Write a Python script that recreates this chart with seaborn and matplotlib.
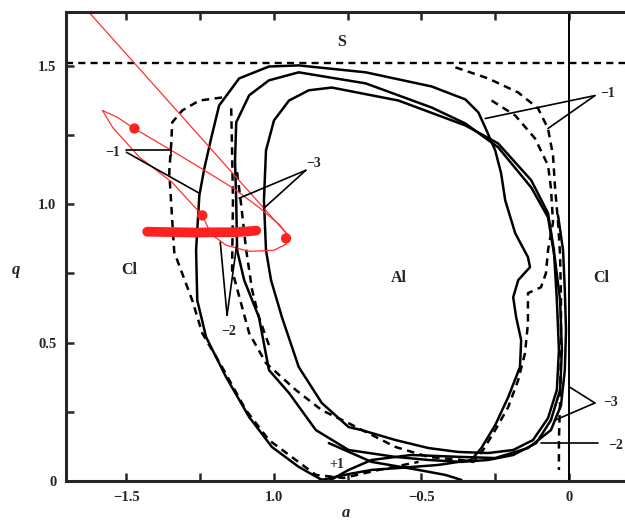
import numpy as np
import pandas as pd
import matplotlib
matplotlib.use("Agg")
import matplotlib.pyplot as plt
import seaborn as sns

outer_loop = [(-0.838, 0.004), (-0.916, 0.051), (-1.007, 0.123), (-1.084, 0.231), (-1.162, 0.375),
              (-1.230, 0.520), (-1.260, 0.653), (-1.264, 0.834), (-1.253, 1.032), (-1.236, 1.130),
              (-1.213, 1.238), (-1.186, 1.357), (-1.118, 1.455), (-1.017, 1.498), (-0.916, 1.502),
              (-0.689, 1.477), (-0.466, 1.426), (-0.351, 1.379), (-0.307, 1.332), (-0.284, 1.278),
              (-0.250, 1.195), (-0.230, 1.112), (-0.216, 1.014), (-0.182, 0.895), (-0.139, 0.809),
              (-0.132, 0.773), (-0.172, 0.726), (-0.189, 0.664), (-0.179, 0.592), (-0.162, 0.509),
              (-0.166, 0.412), (-0.206, 0.303), (-0.250, 0.202), (-0.297, 0.119), (-0.331, 0.076),
              (-0.443, 0.058), (-0.578, 0.047), (-0.669, 0.040), (-0.747, 0.025), (-0.838, 0.004)]

middle_loop = [(-1.125, 0.834), (-1.128, 1.014), (-1.132, 1.159), (-1.128, 1.296), (-1.084, 1.394),
               (-1.017, 1.448), (-0.916, 1.477), (-0.689, 1.437), (-0.466, 1.350), (-0.351, 1.292),
               (-0.240, 1.206), (-0.128, 1.061), (-0.071, 0.953), (-0.047, 0.798), (-0.030, 0.653),
               (-0.024, 0.473), (-0.030, 0.329), (-0.061, 0.220), (-0.111, 0.137), (-0.189, 0.094),
               (-0.274, 0.076), (-0.365, 0.069), (-0.476, 0.076), (-0.588, 0.087), (-0.747, 0.112),
               (-0.858, 0.184), (-0.949, 0.318), (-1.017, 0.401), (-1.051, 0.592), (-1.101, 0.726),
               (-1.125, 0.834)]

inner_loop = [(-1.027, 0.834), (-1.034, 1.014), (-1.027, 1.195), (-1.000, 1.303), (-0.949, 1.375),
              (-0.882, 1.412), (-0.804, 1.422), (-0.578, 1.375), (-0.351, 1.285), (-0.240, 1.220),
              (-0.128, 1.087), (-0.071, 0.968), (-0.051, 0.834), (-0.041, 0.653), (-0.034, 0.473),
              (-0.041, 0.329), (-0.071, 0.227), (-0.122, 0.148), (-0.189, 0.112), (-0.274, 0.101),
              (-0.375, 0.105), (-0.476, 0.119), (-0.588, 0.148), (-0.703, 0.184), (-0.747, 0.195),
              (-0.838, 0.282), (-0.916, 0.412), (-0.973, 0.592), (-1.010, 0.726), (-1.027, 0.834)]

plus_one = [(-0.814, 0.000), (-0.747, 0.040), (-0.669, 0.076), (-0.534, 0.094), (-0.365, 0.087),
            (-0.250, 0.083), (-0.139, 0.119), (-0.061, 0.184), (-0.027, 0.274), (-0.014, 0.401),
            (-0.010, 0.545), (-0.014, 0.690), (-0.020, 0.834), (-0.037, 0.960)]

bottom_touch = [(-0.814, 0.137), (-0.669, 0.069), (-0.510, 0.040), (-0.419, 0.022), (-0.365, 0.004)]

dashed_left = [(-1.176, 1.386), (-1.253, 1.375), (-1.311, 1.339), (-1.345, 1.296), (-1.348, 1.224),
               (-1.355, 1.116), (-1.348, 0.996), (-1.338, 0.827), (-1.277, 0.653), (-1.243, 0.534),
               (-1.176, 0.412), (-1.095, 0.256), (-1.017, 0.148), (-0.926, 0.076), (-0.858, 0.022),
               (-0.764, 0.011), (-0.645, 0.040), (-0.510, 0.069)]

dashed_mid = [(-1.145, 1.347), (-1.142, 1.195), (-1.139, 1.014), (-1.142, 0.762), (-1.084, 0.534),
              (-1.027, 0.426), (-0.926, 0.329), (-0.838, 0.256), (-0.747, 0.209), (-0.588, 0.123),
              (-0.476, 0.087), (-0.365, 0.076), (-0.324, 0.069), (-0.291, 0.112), (-0.250, 0.184),
              (-0.206, 0.267), (-0.172, 0.365), (-0.149, 0.462), (-0.139, 0.570), (-0.139, 0.679),
              (-0.095, 0.700), (-0.078, 0.751), (-0.071, 0.834), (-0.054, 0.935), (-0.061, 1.058),
              (-0.071, 1.141), (-0.115, 1.238), (-0.182, 1.321), (-0.274, 1.383)]

dashed_right = [(-0.385, 1.495), (-0.274, 1.455), (-0.172, 1.404), (-0.105, 1.347), (-0.071, 1.274),
                (-0.054, 1.177), (-0.047, 1.058), (-0.037, 0.935), (-0.030, 0.816), (-0.027, 0.653),
                (-0.027, 0.473), (-0.030, 0.292), (-0.034, 0.148), (-0.034, 0.040)]

dashed_short = [(-1.125, 1.116), (-1.111, 0.996), (-1.095, 0.841), (-1.074, 0.690), (-1.051, 0.592),
                (-1.017, 0.491)]

# red trajectory
red_loop = [(-1.581, 1.339), (-1.530, 1.314), (-1.480, 1.278), (-1.365, 1.206), (-1.253, 1.134),
            (-1.142, 1.061), (-1.051, 0.989), (-0.983, 0.928), (-0.949, 0.884), (-0.959, 0.856),
            (-1.000, 0.834), (-1.084, 0.830), (-1.162, 0.852), (-1.213, 0.892), (-1.243, 0.960),
            (-1.345, 1.079), (-1.456, 1.170), (-1.547, 1.278), (-1.581, 1.339)]
red_line = [(-1.632, 1.700), (-0.949, 0.884)]
red_band = [(-1.430, 0.901), (-1.380, 0.900), (-1.320, 0.899), (-1.260, 0.898), (-1.200, 0.899),
            (-1.140, 0.899), (-1.090, 0.902), (-1.060, 0.905)]
red_dots_a = [-1.473, -1.243, -0.959]
red_dots_q = [1.274, 0.960, 0.877]

q_boundary = 1.51

# region labels and curve labels
regions = [("S", -0.770, 1.585), ("Cl", -1.490, 0.762), ("Al", -0.578, 0.733), ("Cl", 0.111, 0.733)]
curve_labels = [("−1", -1.547, 1.188), ("−3", -0.865, 1.148), ("−2", -1.152, 0.540),
                ("−1", 0.132, 1.401), ("−3", 0.142, 0.285), ("−2", 0.160, 0.130), ("+1", -0.787, 0.058)]
pointers = [((-1.500, 1.195), (-1.348, 1.195)), ((-1.348, 1.195), (-1.348, 1.173)),
            ((-1.500, 1.188), (-1.253, 1.040)),
            ((-0.892, 1.123), (-1.118, 1.022)), ((-0.892, 1.123), (-1.034, 0.986)),
            ((-1.159, 0.599), (-1.182, 0.863)), ((-1.159, 0.599), (-1.125, 0.863)),
            ((0.088, 1.393), (-0.284, 1.310)), ((0.088, 1.393), (-0.071, 1.274)),
            ((0.088, 0.282), (0.003, 0.339)), ((0.088, 0.282), (-0.047, 0.220)),
            ((0.098, 0.137), (-0.095, 0.137))]

x_ticks = [-1.5, -1.25, -1.0, -0.75, -0.5, -0.25, 0.0]
x_tick_labels = ["−1.5", "", "1.0", "", "−0.5", "", "0"]
y_ticks = [0, 0.25, 0.5, 0.75, 1.0, 1.25, 1.5]
y_tick_labels = ["0", "", "0.5", "", "1.0", "", "1.5"]

sns.set_style("ticks")
plt.rcParams['font.family'] = ['Liberation Serif', 'DejaVu Serif']

fig = plt.figure(figsize=(6.25, 5.26), dpi=100)
ax = fig.add_axes([66 / 625, 45 / 526, 559 / 625, 469 / 526])


def draw(curve, dashed=False, color="black", lw=1.8):
    df = pd.DataFrame(curve, columns=["a", "q"])
    line = sns.lineplot(data=df, x="a", y="q", sort=False, estimator=None, ax=ax,
                        color=color, linewidth=lw)
    l = line.lines[-1]
    if dashed:
        l.set_dashes((3.0, 2.2))
    l.set_solid_capstyle("round")


for c in [outer_loop, middle_loop, inner_loop, plus_one, bottom_touch]:
    draw(c)
for c in [dashed_left, dashed_mid, dashed_right, dashed_short]:
    draw(c, dashed=True)

ax.axhline(q_boundary, color="black", lw=1.7, dashes=(3.0, 2.2))
ax.axvline(0, color="black", lw=1.4)

draw(red_line, color="#ff3030", lw=0.9)
draw(red_loop, color="#ff3030", lw=0.9)
draw(red_band, color="#ff2020", lw=7)
sns.scatterplot(x=red_dots_a, y=red_dots_q, color="#ff2020", s=55, edgecolor="none", ax=ax, zorder=5)

for (p0, p1) in pointers:
    ax.plot([p0[0], p1[0]], [p0[1], p1[1]], color="black", lw=1.2, clip_on=False)

for txt, a, q in regions:
    ax.text(a, q, txt, ha="center", va="center", fontsize=11.5, fontweight="bold")
for txt, a, q in curve_labels:
    ax.text(a, q, txt, ha="center", va="center", fontsize=10, fontweight="bold", clip_on=False)

ax.set_xlim(-1.705, 0.19)
ax.set_ylim(0, 1.695)
ax.set_xticks(x_ticks)
ax.set_xticklabels(x_tick_labels)
ax.set_yticks(y_ticks)
ax.set_yticklabels(y_tick_labels)
ax.tick_params(direction="in", length=6, width=1.8, top=True, labelsize=10.5, pad=7)
for lab in ax.get_xticklabels() + ax.get_yticklabels():
    lab.set_fontweight("bold")
ax.set_xlabel("a", fontstyle="italic", fontweight="bold", fontsize=12, va="center")
ax.set_ylabel("q", fontstyle="italic", fontweight="bold", fontsize=12, rotation=0, va="center")
ax.yaxis.set_label_coords(-0.09, 0.45)
ax.xaxis.set_label_coords(0.5, -0.068)
for s in ["left", "top", "bottom"]:
    ax.spines[s].set_linewidth(2.2)
ax.spines["right"].set_visible(False)

fig.savefig("out.png", dpi=100)
